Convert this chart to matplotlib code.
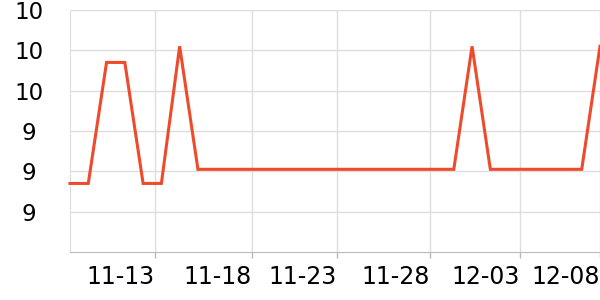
import matplotlib
matplotlib.use("Agg")
import matplotlib.pyplot as plt
from matplotlib.ticker import FixedLocator, FuncFormatter

# --- data (one point per sample, evenly spaced) ---
values = [9.14, 9.14, 9.74, 9.74, 9.14, 9.14, 9.82, 9.21, 9.21, 9.21,
          9.21, 9.21, 9.21, 9.21, 9.21, 9.21, 9.21, 9.21, 9.21, 9.21,
          9.21, 9.21, 9.82, 9.21, 9.21, 9.21, 9.21, 9.21, 9.21, 9.82]
date_labels = ["11-13", "11-18", "11-23", "11-28", "12-03", "12-08"]
date_ticks = [4.65, 9.96, 14.61, 19.70, 24.62, 29.0]
y_ticks = [9.0, 9.2, 9.4, 9.6, 9.8, 10.0]

LINE_COLOR = "#ee4a2c"
GRID_COLOR = "#dddddd"
AXIS_COLOR = "#bbbbbb"

fig = plt.figure(figsize=(6, 3), dpi=100)
ax = fig.add_axes([70 / 600, 48 / 300, 530 / 600, 242 / 300])

x = list(range(len(values)))
ax.plot(x, values, color=LINE_COLOR, linewidth=2.2, solid_joinstyle="miter",
        clip_on=False, zorder=3)

ax.set_xlim(0, len(values) - 1)
ax.set_ylim(8.8, 10.0)

# y axis: rounded labels, gridlines
ax.yaxis.set_major_locator(FixedLocator(y_ticks))
ax.yaxis.set_major_formatter(FuncFormatter(lambda v, _: f"{v:.0f}"))
ax.tick_params(axis="y", length=0, pad=29.5, labelsize=16.5)
for lbl in ax.get_yticklabels():
    lbl.set_horizontalalignment("center")

# x axis: labels right-aligned to their tick
ax.xaxis.set_major_locator(FixedLocator(date_ticks))
ax.set_xticklabels(date_labels)
ax.tick_params(axis="x", length=4, width=1, color=AXIS_COLOR, pad=5.5,
               labelsize=17)
for lbl in ax.get_xticklabels():
    lbl.set_horizontalalignment("right")

ax.grid(True, color=GRID_COLOR, linewidth=1)
ax.set_axisbelow(True)

for side in ("top", "right"):
    ax.spines[side].set_visible(False)
ax.spines["left"].set_color(GRID_COLOR)
ax.spines["bottom"].set_color(AXIS_COLOR)

fig.savefig("out.png", dpi=100)
